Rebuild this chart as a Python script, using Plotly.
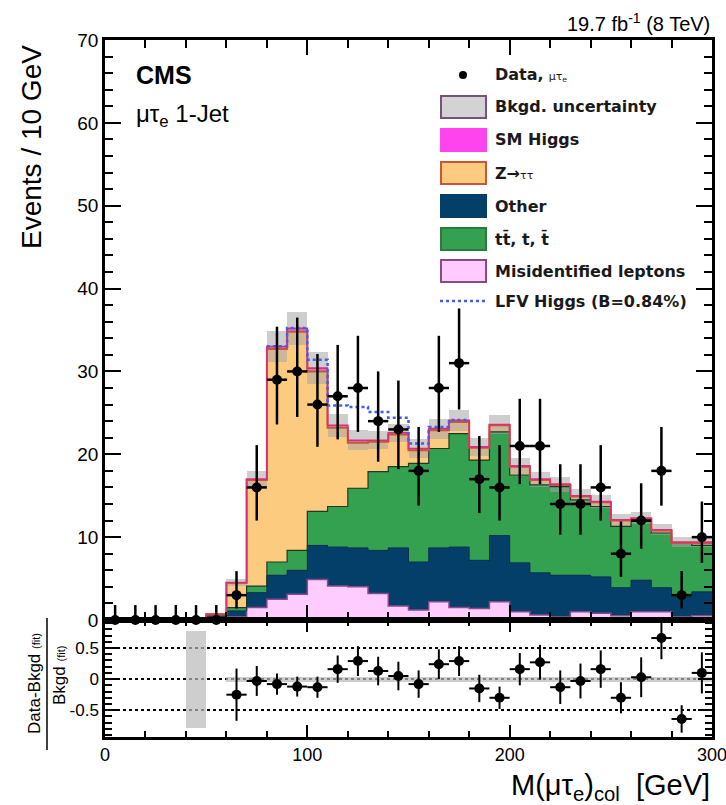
import numpy as np
import plotly.graph_objects as go

# ---------------- data ----------------
bin_edges = list(range(0, 310, 10))
bin_centers = [e + 5 for e in bin_edges[:-1]]

misid = [0, 0, 0, 0, 0, 0.1, 0.4, 1.5, 2.5, 3.1, 4.9, 4.1, 4.0, 3.2, 1.7, 1.2, 2.2, 1.5,
         1.4, 2.2, 1.0, 0.6, 0.4, 1.0, 0.8, 0.5, 1.0, 1.0, 0.4, 0.5]
other = [0, 0, 0, 0, 0, 0.3, 0.7, 1.8, 2.9, 2.9, 4.1, 4.7, 4.7, 5.2, 7.0, 5.8, 6.5, 7.3,
         5.8, 8.0, 5.9, 5.1, 5.0, 4.4, 4.4, 3.4, 3.8, 2.9, 2.4, 2.9]
ttbar = [0, 0, 0, 0, 0, 0.1, 0.4, 0.8, 1.6, 2.4, 4.1, 4.9, 7.2, 9.5, 9.8, 11.9, 12.0, 13.7,
         12.1, 12.5, 10.6, 10.6, 10.7, 9.1, 8.5, 7.4, 7.1, 6.6, 6.5, 5.6]
ztt = [0, 0, 0, 0, 0, 0.2, 3.0, 12.8, 25.7, 26.4, 16.9, 9.5, 5.5, 3.6, 3.9, 1.6, 2.2, 1.4,
       1.5, 0.8, 1.0, 0.6, 0.2, 0.4, 0.5, 0.7, 0.3, 0.3, 0.0, 0.3]
smh = [0, 0, 0, 0, 0, 0, 0.0, 0.1, 0.3, 0.4, 0.4, 0.3, 0.3, 0.2, 0.2, 0.2, 0.2, 0.2,
       0.1, 0.1, 0.1, 0.1, 0.1, 0.1, 0.1, 0.1, 0.1, 0.1, 0.1, 0.1]
bkg_unc = [0, 0, 0, 0, 0, 0.1, 0.4, 1.0, 1.9, 2.0, 1.9, 1.4, 1.2, 1.1, 1.1, 1.1, 1.2, 1.3,
           1.1, 1.2, 1.0, 0.9, 0.9, 0.8, 0.8, 0.7, 0.7, 0.7, 0.6, 0.6]
lfv_signal = [0, 0, 0, 0, 0, 0, 0, 0, 0.05, 0.05, 1.0, 2.4, 4.0, 3.4, 1.8, 0.6, 0.2, 0.05,
              0, 0, 0, 0, 0, 0, 0, 0, 0, 0, 0, 0]

data = [0, 0, 0, 0, 0, 0, 3, 16, 29, 30, 26, 27, 28, 24, 23, 18, 28, 31,
        17, 16, 21, 21, 14, 14, 16, 8, 12, 18, 3, 10]
data_err_up = [1.8, 1.8, 1.8, 1.8, 1.8, 1.8, 2.9, 5.1, 6.4, 6.5, 6.1, 6.2, 6.3, 6.0, 5.9, 5.3, 6.3, 6.6,
               5.2, 5.1, 5.7, 5.7, 4.8, 4.8, 5.1, 3.9, 4.5, 5.3, 2.9, 4.3]
data_err_dn = [0, 0, 0, 0, 0, 0, 1.6, 4.0, 5.4, 5.5, 5.1, 5.2, 5.3, 4.9, 4.8, 4.2, 5.3, 5.6,
               4.1, 4.0, 4.6, 4.6, 3.7, 3.7, 4.0, 2.8, 3.4, 4.2, 1.6, 3.1]

ratio_x = [65, 75, 85, 95, 105, 115, 125, 135, 145, 155, 165, 175, 185, 195, 205, 215,
           225, 235, 245, 255, 265, 275, 285, 295]
ratio = [-0.25, -0.03, -0.08, -0.12, -0.13, 0.16, 0.29, 0.13, 0.05, -0.08, 0.24, 0.29,
         -0.15, -0.30, 0.16, 0.27, -0.13, -0.03, 0.16, -0.30, 0.03, 0.66, -0.64, 0.10]
ratio_err = [0.42, 0.24, 0.17, 0.16, 0.17, 0.22, 0.24, 0.23, 0.23, 0.22, 0.24, 0.24,
             0.22, 0.18, 0.26, 0.28, 0.27, 0.28, 0.30, 0.25, 0.32, 0.34, 0.22, 0.33]
ratio_band = [0, 0, 0, 0, 0.78, 0, 0.04, 0.04, 0.04, 0.04, 0.04, 0.04, 0.04, 0.04, 0.04,
              0.04, 0.04, 0.04, 0.04, 0.04, 0.04, 0.04, 0.04, 0.04, 0.04, 0.04, 0.04, 0.04,
              0.04, 0.04]

# ---------------- styles ----------------
FONT = "Liberation Sans, Arial, sans-serif"
LEGFONT = "DejaVu Sans, Liberation Sans, sans-serif"
layers = [
    ("Misidentified leptons", misid, "#FFCCFF", "#8A4A8A", 1.5),
    ("Other", other, "#033F68", "#02304F", 1.0),
    ("tt", ttbar, "#34A150", "#1E3A22", 1.2),
    ("Ztt", ztt, "#FDCB80", "#CC5533", 2.0),
    ("SM Higgs", smh, "#FF44EE", "#D8307A", 1.6),
]

fig = go.Figure()

edges = np.array(bin_edges, dtype=float)
centers = np.array(bin_centers, dtype=float)
cum = np.zeros(len(bin_centers))
tops = []
for name, vals, fill, line, lw in layers:
    v = np.array(vals, dtype=float)
    fig.add_trace(go.Bar(x=centers, y=v, base=cum.copy(), width=10,
                         marker=dict(color=fill, line=dict(width=0)),
                         showlegend=False, xaxis="x", yaxis="y"))
    cum = cum + v
    tops.append((cum.copy(), line, lw))

for top, line, lw in tops:
    fig.add_trace(go.Scatter(x=edges, y=np.append(top, top[-1]), mode="lines",
                             line=dict(color=line, width=lw, shape="hv"),
                             showlegend=False, xaxis="x", yaxis="y", hoverinfo="skip"))

total = cum
unc = np.array(bkg_unc, dtype=float)
fig.add_trace(go.Bar(x=centers, y=2 * unc, base=total - unc, width=10,
                     marker=dict(color="rgba(165,165,165,0.55)", line=dict(width=0)),
                     showlegend=False, xaxis="x", yaxis="y"))

sig = np.array(lfv_signal, dtype=float)
idx = np.where(sig > 0)[0]
lfv_y = (total + sig)[idx]
lfv_x = edges[idx]
fig.add_trace(go.Scatter(x=np.append(lfv_x, lfv_x[-1] + 10), y=np.append(lfv_y, lfv_y[-1]),
                         mode="lines", line=dict(color="#3E5CFF", width=2.5, dash="dot", shape="hv"),
                         showlegend=False, xaxis="x", yaxis="y"))

fig.add_trace(go.Scatter(
    x=centers, y=data, mode="markers",
    marker=dict(color="black", size=10),
    error_y=dict(type="data", symmetric=False, array=data_err_up, arrayminus=data_err_dn,
                 color="black", thickness=2.5, width=0),
    error_x=dict(type="constant", value=5, color="black", thickness=2.5, width=0),
    cliponaxis=False, showlegend=False, xaxis="x", yaxis="y"))

# ratio panel
band = np.array(ratio_band, dtype=float)
fig.add_trace(go.Bar(x=centers, y=2 * band, base=-band, width=10,
                     marker=dict(color="rgba(185,185,185,0.7)", line=dict(width=0)),
                     showlegend=False, xaxis="x2", yaxis="y2"))
fig.add_trace(go.Scatter(
    x=ratio_x, y=ratio, mode="markers", marker=dict(color="black", size=10),
    error_y=dict(type="data", array=ratio_err, color="black", thickness=2, width=0),
    error_x=dict(type="constant", value=5, color="black", thickness=2, width=0),
    showlegend=False, xaxis="x2", yaxis="y2"))

# ---------------- layout ----------------
L, R, T, B = 105, 14, 40, 68
W, H = 726, 805
PW, PH = W - L - R, H - T - B


def px(x):
    return (x - L) / PW


def py(y):
    return (H - B - y) / PH


split = py(620)
axis_common = dict(showline=True, linecolor="black", linewidth=2.5, mirror="ticks",
                   ticks="inside", tickcolor="black", tickwidth=2, zeroline=False,
                   automargin=False)

fig.update_layout(
    width=W, height=H, margin=dict(l=L, r=R, t=T, b=B, autoexpand=False),
    paper_bgcolor="white", plot_bgcolor="white", barmode="overlay", bargap=0,
    font=dict(family=FONT, color="black"),
    xaxis=dict(domain=[0, 1], anchor="y", range=[0, 300], dtick=100, ticklen=15,
               showticklabels=False, showgrid=False,
               minor=dict(dtick=20, ticklen=8, ticks="inside", tickcolor="black", tickwidth=2),
               **axis_common),
    yaxis=dict(domain=[split, 1], anchor="x", range=[0, 70], dtick=10, ticklen=16,
               showgrid=False, tickfont=dict(family=FONT, size=19, color="black"),
               minor=dict(dtick=2, ticklen=8, ticks="inside", tickcolor="black", tickwidth=2),
               **axis_common),
    xaxis2=dict(domain=[0, 1], anchor="y2", range=[0, 300], dtick=100, ticklen=12,
                matches="x", showgrid=False, ticklabeloverflow="allow",
                tickfont=dict(family=FONT, size=18, color="black"),
                minor=dict(dtick=20, ticklen=6, ticks="inside", tickcolor="black", tickwidth=2),
                **axis_common),
    yaxis2=dict(domain=[0, split], anchor="x2", range=[-0.93, 0.95],
                tickvals=[-0.5, 0, 0.5], ticktext=["-0.5", "0", "0.5"], ticklen=14,
                minor=dict(dtick=0.1, ticklen=7, ticks="inside", tickcolor="black", tickwidth=2),
                showgrid=True, gridcolor="black", griddash="dot", gridwidth=1.5,
                tickfont=dict(family=FONT, size=17, color="black"),
                **axis_common),
)

ann = []
ann.append(dict(text="19.7 fb<sup>-1</sup> (8 TeV)", x=1.0, y=1.0, xref="paper", yref="paper",
                xanchor="right", yanchor="bottom", yshift=3, showarrow=False,
                font=dict(family=FONT, size=20)))
ann.append(dict(text="<b>CMS</b>", x=px(134), y=py(75), xref="paper", yref="paper",
                xanchor="left", yanchor="middle", showarrow=False, font=dict(family=FONT, size=25)))
ann.append(dict(text="μτ<sub>e</sub> 1-Jet", x=px(134), y=py(116), xref="paper", yref="paper",
                xanchor="left", yanchor="middle", showarrow=False, font=dict(family=FONT, size=24)))
ann.append(dict(text="Events / 10 GeV", x=px(31), y=py(147), xref="paper", yref="paper",
                xanchor="center", yanchor="middle", textangle=-90, showarrow=False,
                font=dict(family=FONT, size=28)))
ann.append(dict(text="M(μτ<sub>e</sub>)<sub>col</sub>  [GeV]", x=1.0, y=py(787), xref="paper",
                yref="paper", xanchor="right", yanchor="middle", showarrow=False,
                font=dict(family=FONT, size=29)))
ann.append(dict(text="Data-Bkgd <span style='font-size:11px'>(fit)</span>", x=px(34), y=py(684),
                xref="paper", yref="paper", xanchor="center", yanchor="middle", textangle=-90,
                showarrow=False, font=dict(family=FONT, size=17)))
ann.append(dict(text="Bkgd <span style='font-size:11px'>(fit)</span>", x=px(59), y=py(676),
                xref="paper", yref="paper", xanchor="center", yanchor="middle", textangle=-90,
                showarrow=False, font=dict(family=FONT, size=17)))

shapes = [dict(type="line", xref="paper", yref="paper", x0=px(47), x1=px(47), y0=py(618),
               y1=py(750), line=dict(color="black", width=1.5))]

# legend (manual, CMS style)
leg_rows = [
    ("data", "<b>Data,</b> <span style='font-size:11px'>μτ<sub>e</sub></span>", 75),
    (("#D3D3D3", "#7B4F7B"), "<b>Bkgd. uncertainty</b>", 107),
    (("#FF44EE", "#FF44EE"), "<b>SM Higgs</b>", 140),
    (("#FDCB80", "#CC5533"), "<b>Z→</b><span style='font-size:11px'>ττ</span>", 173),
    (("#033F68", "#033F68"), "<b>Other</b>", 206),
    (("#34A150", "#2A7A3D"), "<b>tt\u0304, t, t\u0304</b>", 239),
    (("#FFCCFF", "#8A4A8A"), "<b>Misidentified leptons</b>", 271),
    ("lfv", "<b>LFV Higgs (B=0.84%)</b>", 301),
]
for style, label, yc in leg_rows:
    if style == "data":
        shapes.append(dict(type="circle", xref="paper", yref="paper", x0=px(459), x1=px(467),
                           y0=py(yc + 4), y1=py(yc - 4), fillcolor="black", line=dict(width=0)))
    elif style == "lfv":
        shapes.append(dict(type="line", xref="paper", yref="paper", x0=px(440), x1=px(487),
                           y0=py(yc), y1=py(yc), line=dict(color="#3E5CFF", width=2.5, dash="dot")))
    else:
        shapes.append(dict(type="rect", xref="paper", yref="paper", x0=px(441), x1=px(486),
                           y0=py(yc + 11), y1=py(yc - 11), fillcolor=style[0],
                           line=dict(color=style[1], width=2)))
    ann.append(dict(text=label, x=px(493), y=py(yc), xref="paper", yref="paper",
                    xanchor="left", yanchor="middle", showarrow=False,
                    font=dict(family=LEGFONT, size=16, color="#1a1a1a")))

fig.update_layout(annotations=ann, shapes=shapes)
fig.write_html("out.html")
